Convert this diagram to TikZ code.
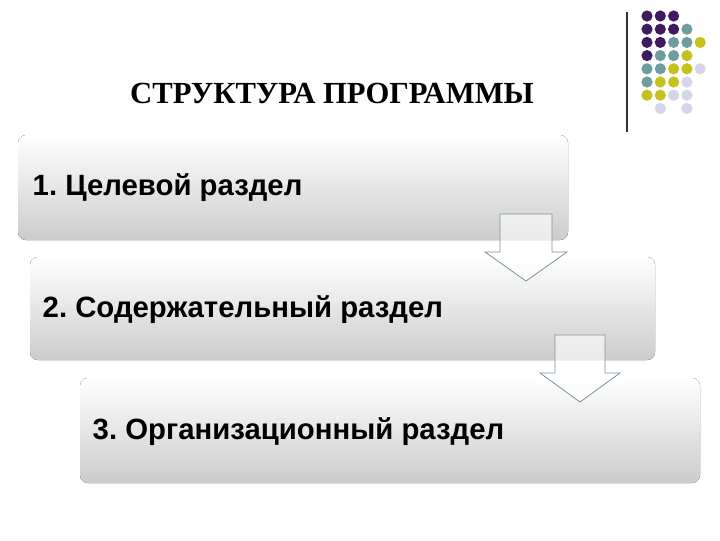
\documentclass[tikz,border=0pt]{standalone}
\usepackage{fontspec}
\setmainfont{Liberation Serif}
\newfontfamily\arialf{Liberation Sans}
\begin{document}
\frenchspacing
\begin{tikzpicture}[x=0.75pt,y=-0.75pt,
  boxst/.style={rounded corners=6pt,top color=white,bottom color=black!20,draw=none},
  lbl/.style={anchor=west,font=\arialf\bfseries\fontsize{22}{24}\selectfont},
  arr/.style={draw=black!30!cyan!40!gray,fill=white,fill opacity=0.6,line width=0.6pt}]
\useasboundingbox (0,0) rectangle (720,540);
\definecolor{cP}{HTML}{3F1A5E}\definecolor{cT}{HTML}{6F9C9E}
\definecolor{cY}{HTML}{C5C21C}\definecolor{cL}{HTML}{D4D5E8}
\definecolor{cN}{HTML}{FFFFFF}
\node[font=\bfseries\fontsize{23}{25}\selectfont] (title) at (332,93) {СТРУКТУРА ПРОГРАММЫ};
\draw[black!80,line width=0.8pt] (627,12) -- (627,132);
\foreach \r/\row in {0/{P,P,P},1/{P,P,P,T},2/{P,P,T,T,Y},3/{P,T,T,Y},4/{T,T,Y,Y,L},5/{T,Y,Y,L},6/{Y,Y,L,L},7/{N,L,N,L}}{
  \foreach \c [count=\i from 0] in \row {
    \fill[color=c\c] (647+13.3*\i,16+13.2*\r) circle (5.6);
  }}
\fill[boxst] (18,135) rectangle (568,240);
\node[lbl] (t1) at (28,188) {1. Целевой раздел};
\fill[boxst] (30,257) rectangle (655,360);
\node[lbl] (t2) at (38,310) {2. Содержательный раздел};
\fill[boxst] (80,378) rectangle (700,483);
\node[lbl] (t3) at (88,432) {3. Организационный раздел};
\draw[arr] (500,214) -- (552,214) -- (552,252) -- (567,252) -- (526,281) -- (485,252) -- (500,252) -- cycle;
\draw[arr] (555,335) -- (605,335) -- (605,373) -- (620,373) -- (580,402) -- (540,373) -- (555,373) -- cycle;
\end{tikzpicture}
\end{document}
